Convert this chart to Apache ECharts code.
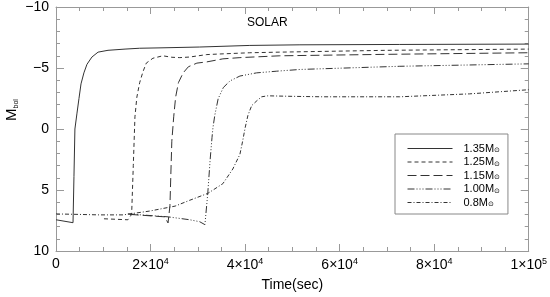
<!DOCTYPE html>
<html><head><meta charset="utf-8">
<script src="https://cdn.jsdelivr.net/npm/echarts@6/dist/echarts.min.js"></script>
<style>html,body{margin:0;padding:0;background:#fff}#c{width:550px;height:297px}</style>
</head><body><div id="c"></div>
<script>
// ---- data (time in seconds, bolometric magnitude) ----
const massLabels = ['1.35', '1.25', '1.15', '1.00', '0.8'];

const t135 = [0, 3600, 3800, 4000, 4440, 4860, 5290, 5900, 6550, 7600, 8900, 11000, 14600, 17700, 18100, 22000, 30400, 41000, 51600, 72700, 100000];
const m135 = [7.44, 7.68, 3.9, 0, -1.3, -2.5, -3.7, -4.6, -5.3, -5.9, -6.3, -6.45, -6.55, -6.62, -6.52, -6.65, -6.72, -6.85, -6.9, -6.93, -6.96];

const t125 = [10150, 15200, 16000, 16350, 16700, 17100, 17700, 18400, 19100, 20500, 22600, 24500, 26200, 28300, 31900, 34700, 41000, 47300, 70000, 100000];
const m125 = [7.36, 7.44, 7.0, 3.0, -1.0, -2.6, -3.8, -4.7, -5.4, -5.8, -6.0, -5.88, -5.85, -5.9, -6.1, -6.15, -6.25, -6.3, -6.45, -6.55];

const t115 = [15600, 23000, 23700, 24100, 24500, 24900, 25300, 25900, 26900, 28000, 29800, 31900, 35300, 38900, 47350, 70000, 100000];
const m115 = [7.0, 7.2, 7.7, 6.3, 1.0, -1.0, -2.6, -3.8, -4.6, -5.1, -5.4, -5.5, -5.75, -5.85, -6.0, -6.12, -6.25];

const t100 = [15200, 23700, 28300, 30400, 31500, 32100, 32600, 33000, 33200, 33600, 34300, 35400, 36800, 38900, 42400, 46700, 51600, 72700, 100000];
const m100 = [6.96, 7.2, 7.44, 7.6, 7.84, 5.3, 2.56, 0.7, -0.1, -1.14, -2.48, -3.4, -3.94, -4.34, -4.6, -4.74, -4.88, -5.14, -5.34];

const t080 = [0, 9300, 14200, 19900, 25200, 28300, 32100, 35300, 37400, 38900, 39500, 40000, 40600, 41400, 42500, 43500, 44800, 49500, 56400, 72700, 87500, 100000];
const m080 = [6.96, 7.04, 7.04, 6.72, 6.32, 5.84, 5.28, 4.48, 3.28, 2.08, 0.96, -0.08, -1.12, -1.92, -2.32, -2.64, -2.72, -2.68, -2.64, -2.64, -2.88, -3.22];

const xTickMin = 0, xTickMax = 100000, xTickStep = 20000;
const yTickMin = -10, yTickMax = 10, yTickStep = 5;

// ---- chart ----
const FONT = 'Liberation Sans, Arial, Helvetica, sans-serif';
const AX = '#999';
const LINE = '#333';
const zip = (t, m) => t.map((v, i) => [v, m[i]]);
const seriesDefs = [
  { t: t135, m: m135, dash: 'solid' },
  { t: t125, m: m125, dash: [4, 3] },
  { t: t115, m: m115, dash: [9, 4] },
  { t: t100, m: m100, dash: [7, 2, 1, 2, 1, 2, 1, 2] },
  { t: t080, m: m080, dash: [4, 2, 1, 2] }
];

function xFmt(v) {
  if (v === 0) return '{a|0}';
  const e = Math.floor(Math.log10(v) + 1e-9);
  const mant = Math.round(v / Math.pow(10, e));
  return '{a|' + mant + '\u00d710}{s|' + e + '}';
}
function yFmt(v) { return v < 0 ? '\u2212' + (-v) : String(v); }

const xRich = {
  a: { fontSize: 14, fontFamily: FONT, color: '#000' },
  s: { fontSize: 9, fontFamily: FONT, color: '#000', padding: [0, 0, 8, 0] }
};

function xAxisCfg(pos, labels) {
  return {
    type: 'value', position: pos, min: xTickMin, max: xTickMax, interval: xTickStep,
    axisLine: { show: true, onZero: false, lineStyle: { color: AX, width: 1 } },
    axisTick: { show: true, inside: true, length: 7, lineStyle: { color: AX } },
    minorTick: { show: true, splitNumber: 4, length: 4, lineStyle: { color: AX } },
    splitLine: { show: false },
    axisLabel: labels ? { show: true, margin: 6, formatter: xFmt, rich: xRich } : { show: false },
    name: labels ? 'Time(sec)' : '',
    nameLocation: 'middle', nameGap: 27,
    nameTextStyle: { fontSize: 14, fontFamily: FONT, color: '#000' }
  };
}
function yAxisCfg(pos, labels) {
  return {
    type: 'value', position: pos, inverse: true, min: yTickMin, max: yTickMax, interval: yTickStep,
    axisLine: { show: true, onZero: false, lineStyle: { color: AX, width: 1 } },
    axisTick: { show: true, inside: true, length: 8, lineStyle: { color: AX } },
    minorTick: { show: true, splitNumber: 5, length: 4, lineStyle: { color: AX } },
    splitLine: { show: false },
    axisLabel: labels ? { show: true, margin: 7, formatter: yFmt, fontSize: 14, fontFamily: FONT, color: '#000' } : { show: false }
  };
}

const chart = echarts.init(document.getElementById('c'), null, { renderer: 'canvas' });
chart.setOption({
  animation: false,
  backgroundColor: '#fff',
  title: {
    text: 'SOLAR', left: 247, top: 17, padding: 0,
    textStyle: { fontSize: 12, fontWeight: 'normal', fontFamily: FONT, color: '#000' }
  },
  grid: { left: 56, right: 21, top: 6, bottom: 41 },
  xAxis: [xAxisCfg('bottom', true), xAxisCfg('top', false)],
  yAxis: [yAxisCfg('left', true), yAxisCfg('right', false)],
  legend: {
    orient: 'vertical', left: 395, top: 134,
    padding: [9, 8, 6, 12],
    borderColor: '#888', borderWidth: 1,
    itemWidth: 45, itemHeight: 10, itemGap: 2.5,
    selectedMode: false,
    data: massLabels,
    itemStyle: { opacity: 0 },
    lineStyle: { width: 1 },
    formatter: name => '{a|' + name + 'M}{s|\u2299}',
    textStyle: {
      rich: {
        a: { fontSize: 11, fontFamily: FONT, color: '#000', padding: [0, 0, 0, 6] },
        s: { fontSize: 7, fontFamily: 'DejaVu Sans, ' + FONT, color: '#000', verticalAlign: 'bottom', padding: [3, 0, 0, 0] }
      }
    }
  },
  graphic: [{
    type: 'text', x: 12, y: 110, rotation: Math.PI / 2,
    style: {
      text: '{m|M}{s|bol}', align: 'center', verticalAlign: 'middle',
      rich: {
        m: { fontSize: 15, fontFamily: FONT, fill: '#000', color: '#000' },
        s: { fontSize: 7, fontFamily: FONT, fill: '#000', color: '#000', verticalAlign: 'bottom', padding: [4, 0, 0, 0] }
      }
    }
  }],
  series: seriesDefs.map((d, i) => ({
    name: massLabels[i], type: 'line', xAxisIndex: 0, yAxisIndex: 0,
    data: zip(d.t, d.m), symbol: 'none', showSymbol: false, silent: true,
    lineStyle: { color: LINE, width: 1, type: d.dash },
    itemStyle: { color: LINE }
  }))
});
</script></body></html>
